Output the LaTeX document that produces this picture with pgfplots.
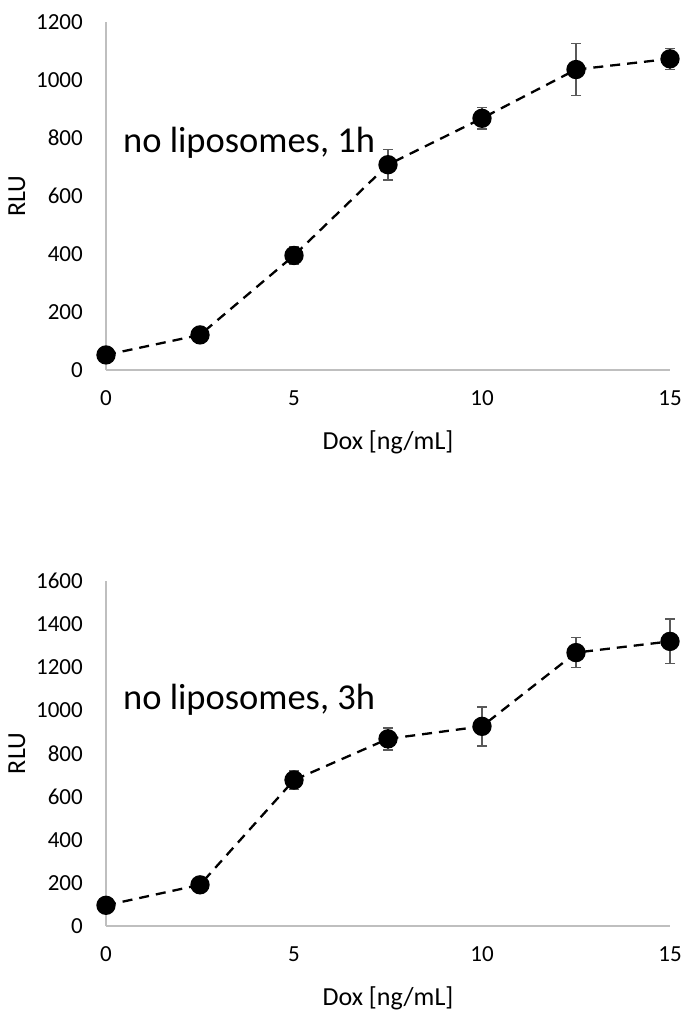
\documentclass[border=0pt]{standalone}
\usepackage{pgfplots}
\pgfplotsset{compat=1.18}
\usepackage{fontspec}
\setmainfont{Carlito}

\definecolor{axisgray}{HTML}{BFBFBF}
\definecolor{errgray}{HTML}{595959}

\pgfplotsset{
  doxpanel/.style={
    scale only axis, width=564bp,
    xmin=0, xmax=15, xtick={0,5,10,15},
    ymin=0,
    axis x line*=bottom, axis y line*=left,
    axis line style={draw=axisgray, line width=1.3bp, -},
    major tick length=0,
    tick label style={font=\fontsize{23bp}{27bp}\selectfont,
      /pgf/number format/assume math mode=true},
    /pgf/number format/1000 sep={},
    xticklabel style={anchor=base, inner sep=0, yshift=-35bp},
    yticklabel style={anchor=east, inner sep=0, xshift=-23bp},
    label style={font=\fontsize{26bp}{30bp}\selectfont},
    xlabel={Dox [ng/mL]},
    xlabel style={at={(axis description cs:0.5,0)}, anchor=base, inner sep=0, yshift=-79bp},
    ylabel={RLU},
    ylabel style={at={(axis description cs:-0.158,0.5)}, anchor=center, inner sep=0},
    clip=false,
  },
  doxdata/.style={
    black, line width=2.3bp, dash pattern=on 10bp off 7bp,
    mark=*, mark size=8.5bp, mark options={solid, fill=black},
    error bars/.cd, y dir=both, y explicit,
    error bar style={errgray, line width=1.5bp, solid},
    error mark options={errgray, rotate=90, mark size=5bp, line width=1.5bp, solid},
  },
}

\begin{document}
\begin{tikzpicture}
\useasboundingbox (0,0) rectangle (684bp,-1011bp);

% 1 h incubation
\begin{axis}[doxpanel, height=348bp, ymax=1200, ytick={0,200,...,1200},
  at={(106bp,-370bp)}, anchor=south west]
\addplot+[doxdata] table[x=dox, y=rlu, y error=err] {
dox   rlu   err
0     52    0
2.5   121   0
5     395   29
7.5   708   52
10    868   37
12.5  1036  90
15    1073  36
};
\node[anchor=base west, inner sep=0, font=\fontsize{36.5bp}{40bp}\selectfont]
  at (axis cs:0.45,750) {no liposomes, 1h};
\end{axis}

% 3 h incubation
\begin{axis}[doxpanel, height=345bp, ymax=1600, ytick={0,200,...,1600},
  at={(106bp,-926bp)}, anchor=south west]
\addplot+[doxdata] table[x=dox, y=rlu, y error=err] {
dox   rlu   err
0     96    0
2.5   191   0
5     677   43
7.5   868   51
10    926   90
12.5  1268  70
15    1320  103
};
\node[anchor=base west, inner sep=0, font=\fontsize{36.5bp}{40bp}\selectfont]
  at (axis cs:0.45,1006) {no liposomes, 3h};
\end{axis}
\end{tikzpicture}
\end{document}
